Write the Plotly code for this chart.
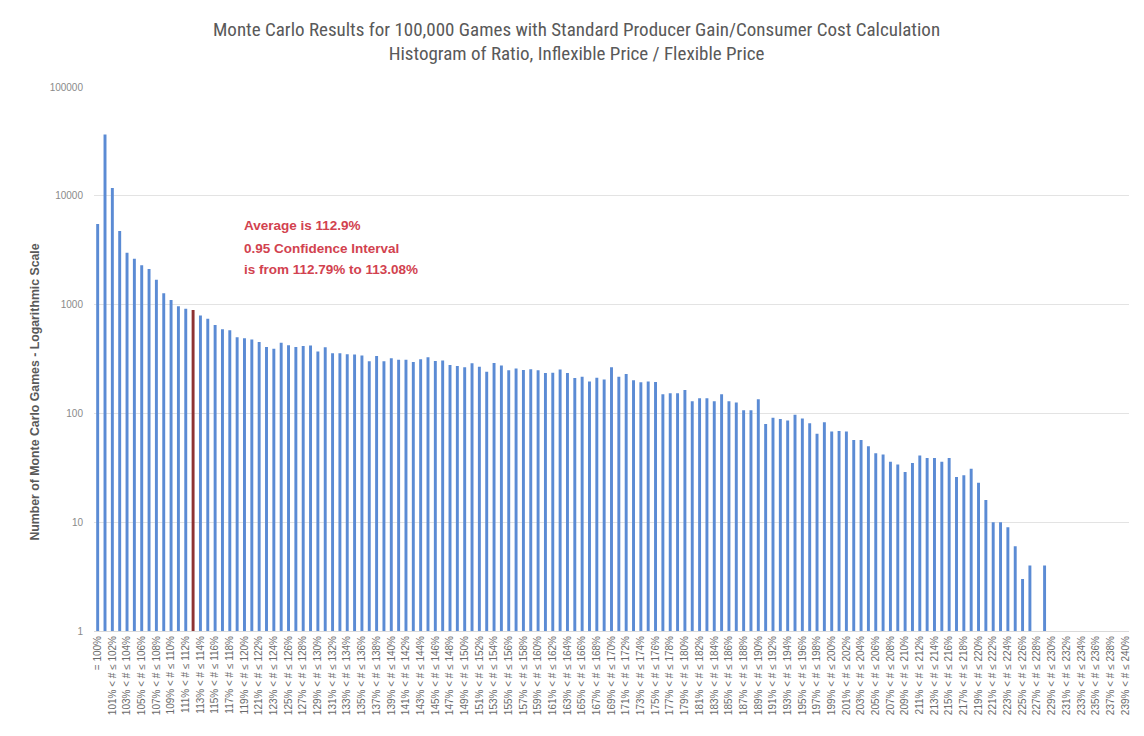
import plotly.graph_objects as go

# ---- data ----
categories = ["= 100%"] + [f"{99 + k}% < # ≤ {100 + k}%" for k in range(1, 141)]

counts = [
    5520, 36500, 11800, 4750, 3000, 2640, 2300, 2120, 1690, 1270,
    1100, 968, 915, 890, 795, 740, 651, 595, 582, 502,
    491, 478, 454, 408, 392, 445, 424, 408, 417, 421,
    371, 405, 357, 357, 350, 348, 340, 301, 337, 301,
    321, 312, 312, 297, 315, 328, 303, 306, 279, 273,
    266, 289, 269, 242, 291, 275, 249, 258, 251, 254,
    249, 235, 237, 253, 235, 211, 217, 196, 213, 205,
    265, 217, 230, 202, 193, 196, 194, 150, 153, 153,
    164, 129, 138, 138, 129, 150, 129, 126, 107, 107,
    135, 80, 91, 89, 86, 97, 90, 81, 65, 83,
    68, 69, 68, 57, 57, 50, 43, 42, 36, 34,
    29, 35, 41, 39, 39, 36, 39, 26, 27, 31,
    23, 16, 10, 10, 9, 6, 3, 4, None, 4,
    None, None, None, None, None, None, None, None, None, None,
    None,
]

average_bin = "112% < # ≤ 113%"

y_tick_vals = [1, 10, 100, 1000, 10000, 100000]
y_tick_text = ["1", "10", "100", "1000", "10000", "100000"]

title_text = ("Monte Carlo Results for 100,000 Games with Standard Producer Gain/Consumer Cost Calculation"
              "<br>Histogram of Ratio, Inflexible Price / Flexible Price")
y_title = "Number of Monte Carlo Games - Logarithmic Scale"
note_lines = ["Average is 112.9%", "0.95 Confidence Interval", "is from 112.79% to 113.08%"]

# ---- styling ----
blue = "#5B8BD4"
red = "#8E3232"
colors = [red if c == average_bin else blue for c in categories]

fig = go.Figure(
    go.Bar(
        x=categories,
        y=counts,
        marker=dict(color=colors, line=dict(width=0)),
        hoverinfo="x+y",
    )
)

narrow = "Liberation Sans Narrow, Arial Narrow, Roboto Condensed, Liberation Sans, sans-serif"

# page body adds an 8px offset, so the figure is sized to fit the window
fig.update_layout(
    width=1136,
    height=728,
    margin=dict(l=85.6, r=15.4, t=79, b=105),
    paper_bgcolor="white",
    plot_bgcolor="white",
    bargap=0.6,
    showlegend=False,
    title=dict(
        text=title_text,
        x=0.5005,
        xanchor="center",
        xref="container",
        y=0.962,
        yanchor="top",
        yref="container",
        font=dict(family=narrow, size=19, color="#595959"),
    ),
    xaxis=dict(
        type="category",
        categoryorder="array",
        categoryarray=categories,
        tickmode="array",
        tickvals=categories[::2],
        ticktext=categories[::2],
        tickangle=-90,
        tickfont=dict(family="Liberation Sans, Arial, sans-serif", size=10, color="#6a6a6a"),
        showgrid=False,
        showline=True,
        linecolor="#d9d9d9",
        linewidth=1,
        ticks="",
        automargin=False,
        range=[-0.5, 140.5],
    ),
    yaxis=dict(
        type="log",
        range=[0, 5],
        tickmode="array",
        tickvals=y_tick_vals,
        ticktext=y_tick_text,
        tickfont=dict(family="Liberation Sans, Arial, sans-serif", size=10, color="#8a8a8a"),
        showgrid=True,
        gridcolor="#e3e3e3",
        gridwidth=1,
        zeroline=False,
        showline=False,
        ticks="",
        ticklabelstandoff=10,
        automargin=False,
    ),
)

fig.add_annotation(
    text=y_title,
    textangle=-90,
    xref="paper", yref="paper",
    x=-0.0566, y=0.439,
    xanchor="center", yanchor="middle",
    showarrow=False,
    font=dict(family="Liberation Sans, Arial, sans-serif", size=12.3, color="#595959", weight="bold"),
)

for line, ypos in zip(note_lines, [0.746, 0.704, 0.664]):
    fig.add_annotation(
        text=line,
        xref="paper", yref="paper",
        x=0.1434, y=ypos,
        xanchor="left", yanchor="middle",
        align="left",
        showarrow=False,
        font=dict(family="Liberation Sans, Arial, sans-serif", size=13.5, color="#D2424F", weight="bold"),
    )

fig.write_html("out.html")
